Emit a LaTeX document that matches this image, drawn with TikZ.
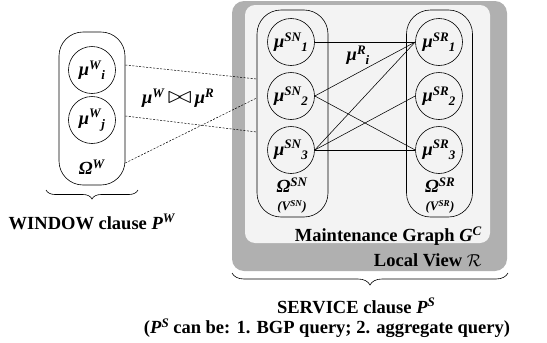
\documentclass[tikz,border=0pt]{standalone}
\usepackage{fontspec}
\setmainfont{Liberation Serif}
\usepackage{graphicx}
\usetikzlibrary{calc}
\usetikzlibrary{decorations.pathreplacing}
\definecolor{viewgray}{RGB}{176,176,176}
\definecolor{graphgray}{RGB}{243,243,243}
\newcommand{\upidx}[1]{\raisebox{6.5pt}{\fontsize{13}{13}\selectfont\textit{#1}}}
\newcommand{\lowidx}[1]{\raisebox{-4pt}{\fontsize{13}{13}\selectfont\textit{#1}}}
\newcommand{\bmu}[2]{\textit{μ}\upidx{#1}\lowidx{#2}}
\newcommand{\bmuup}[1]{\textit{μ}\upidx{#1}}
\newcommand{\bomega}[1]{\textit{Ω}\upidx{#1}}

\begin{document}
\begin{tikzpicture}[x=1pt,y=1pt,
	every node/.style={font=\fontsize{18.5}{20}\selectfont\bfseries},
	elem/.style={circle,draw,line width=.6pt,minimum size=47pt,inner sep=0pt},
	capsule/.style={draw,line width=.6pt,rounded corners=24pt,inner sep=0pt},
	link/.style={line width=.55pt},
	joinlink/.style={line width=.5pt,dash pattern=on 2pt off 1.5pt},
	small/.style={font=\fontsize{13}{15}\selectfont\bfseries}]
\useasboundingbox (0,0) rectangle (547,-343);

% local view and maintenance graph
\fill[viewgray, rounded corners=12pt] (232,-1) rectangle (507,-271);
\fill[graphgray, rounded corners=10pt] (245,-5) rectangle (490,-243);

% draw capsules
\node[capsule, minimum width=66pt, minimum height=153pt] (wcap) at (92,-108.5) {};
\node[capsule, minimum width=71pt, minimum height=207pt] (sncap) at (292.5,-113.5) {};
\node[capsule, minimum width=66pt, minimum height=207pt] (srcap) at (439.5,-113.5) {};

% draw nodes
\node[elem] (wi) at (92,-70) {\bmu{W}{i}};
\node[elem] (wj) at (92,-120) {\bmu{W}{j}};
\node (ow) at (92,-167) {\bomega{W}};

\node[elem] (sn1) at (291,-42) {\bmu{SN}{1}};
\node[elem] (sn2) at (291,-96) {\bmu{SN}{2}};
\node[elem] (sn3) at (291,-150) {\bmu{SN}{3}};
\node (osn) at (292,-185) {\bomega{SN}};
\node[small] (vsn) at (292,-207) {\textit{(V\textsuperscript{SN})}};

\node[elem] (sr1) at (439,-42) {\bmu{SR}{1}};
\node[elem] (sr2) at (439,-96) {\bmu{SR}{2}};
\node[elem] (sr3) at (439,-150) {\bmu{SR}{3}};
\node (osr) at (440,-185) {\bomega{SR}};
\node[small] (vsr) at (440,-207) {\textit{(V\textsuperscript{SR})}};

% draw links
\draw[link] (sn1.east) -- (sr1.west);
\draw[link] (sn2.east) -- (sr1.west);
\draw[link] (sn2.east) -- (sr3.west);
\draw[link] (sn3.east) -- (sr1.west);
\draw[link] (sn3.east) -- (sr2.west);
\draw[link] (sn3.east) -- (sr3.west);
\node (mur) at (358,-55) {\bmu{R}{i}};

% draw join
\draw[joinlink] ($(wi -| wcap.east)+(0,5)$) -- ($(sn2 -| sncap.west)+(0,17)$);
\draw[joinlink] ($(wj -| wcap.east)+(0,4)$) -- ($(sn3 -| sncap.west)+(0,18)$);
\draw[joinlink] ($(ow -| wcap.east)+(0,4)$) -- ($(sn2 -| sncap.west)+(0,-2)$);
\node (join) at (178,-98) {\bmuup{W}\,\scalebox{1.7}[1.4]{$\bowtie$}\,\bmuup{R}};

% titles
\node[anchor=east] (mgtitle) at (485,-236) {Maintenance Graph \textit{G}\upidx{C}};
\node[anchor=east] (lvtitle) at (485,-260) {Local View $\mathcal{R}$};

\draw[decorate,decoration={brace,mirror,amplitude=9pt},line width=.6pt] (46,-190) -- (138,-190);
\node (wtitle) at (92,-222) {WINDOW clause \textit{P}\upidx{W}};

\draw[decorate,decoration={brace,mirror,amplitude=12pt},line width=.6pt] (232,-273) -- (508,-273);
\node (stitle) at (356,-306) {SERVICE clause \textit{P}\upidx{S}};
\node (snote) at (327,-328) {(\textit{P}\upidx{S} can be: 1. BGP query; 2. aggregate query)};
\end{tikzpicture}
\end{document}
